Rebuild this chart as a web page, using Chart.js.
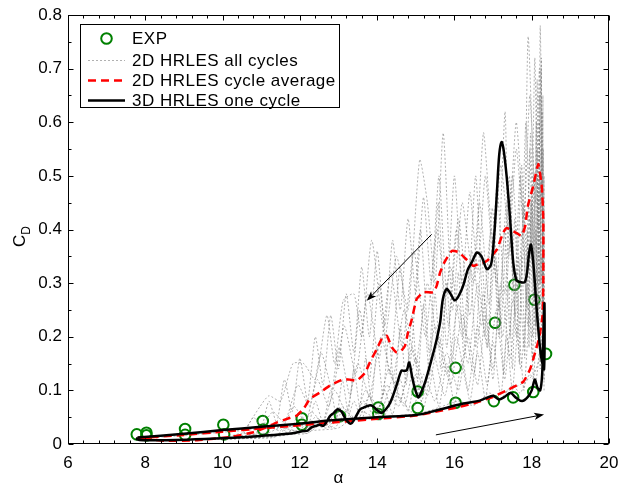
<!DOCTYPE html>
<html><head><meta charset="utf-8">
<script src="https://cdn.jsdelivr.net/npm/chart.js@4"></script>
<style>html,body{margin:0;padding:0;background:#fff;}canvas{display:block;}</style>
</head><body>
<canvas id="c" width="622" height="489"></canvas>
<script>
// ---------- tick labels ----------
const xTicks = [6, 8, 10, 12, 14, 16, 18, 20];
const xTickLabels = ['6', '8', '10', '12', '14', '16', '18', '20'];
const yTicks = [0, 0.1, 0.2, 0.3, 0.4, 0.5, 0.6, 0.7, 0.8];
const yTickLabels = ['0', '0.1', '0.2', '0.3', '0.4', '0.5', '0.6', '0.7', '0.8'];
const seriesNames = ['EXP', '2D HRLES all cycles', '2D HRLES cycle average', '3D HRLES one cycle'];

// ---------- EXP (alpha, CD) ----------
const expData = [[7.78,0.018],[8.03,0.021],[8.03,0.016],[9.03,0.028],[9.03,0.017],[10.02,0.036],[10.04,0.018],
  [11.04,0.043],[11.05,0.027],[12.05,0.048],[12.05,0.036],[13.04,0.052],[14.03,0.068],[14.03,0.056],
  [15.05,0.098],[15.05,0.067],[16.03,0.142],[16.03,0.077],[17.05,0.226],[17.02,0.08],[17.55,0.297],
  [17.52,0.087],[18.07,0.269],[18.04,0.097],[18.37,0.168]];

// ---------- 2D HRLES all cycles (several cycles) ----------
const grayUp1 = [[7.8,0.012],[9,0.018],[10,0.024],[11,0.03],[12,0.036],[13,0.043],[14,0.05],[15,0.056],[15.5,0.063],[16,0.07],[16.5,0.078],[17,0.088],[17.4,0.1],[17.8,0.115],[18.05,0.13],[18.2,0.16],[18.3,0.22]];
const grayUp2 = [[7.8,0.01],[9,0.016],[10,0.022],[11,0.028],[12,0.034],[13,0.041],[14,0.048],[15,0.055],[15.6,0.068],[16.1,0.08],[16.5,0.072],[16.9,0.095],[17.2,0.085],[17.5,0.11],[17.7,0.095],[17.95,0.13],[18.1,0.115],[18.22,0.18],[18.32,0.15]];
const grayCycA = [[18.3,0.15],[18.28,0.45],[18.22,0.78],[18.18,0.35],[18.12,0.6],[18.05,0.3],[17.95,0.55],[17.85,0.3],[17.7,0.5],[17.55,0.28],[17.35,0.45],[17.15,0.25],[16.95,0.4],[16.7,0.22],[16.45,0.36],[16.2,0.2],[15.9,0.33],[15.6,0.18],[15.3,0.3],[15.0,0.15],[14.7,0.25],[14.4,0.12],[14.1,0.2],[13.8,0.09],[13.5,0.15],[13.2,0.06],[12.9,0.1],[12.6,0.04],[12.3,0.06],[12.0,0.025],[11.5,0.03],[11.0,0.015],[10.5,0.012],[10,0.01],[9,0.008],[8,0.008]];
const grayCycB = [[18.3,0.2],[18.25,0.5],[18.15,0.3],[17.91,0.76],[17.8,0.4],[17.6,0.55],[17.4,0.35],[17.31,0.62],[17.1,0.3],[16.9,0.45],[16.75,0.58],[16.5,0.3],[16.2,0.45],[15.95,0.25],[15.71,0.58],[15.5,0.3],[15.3,0.45],[15.1,0.53],[14.8,0.25],[14.5,0.35],[14.2,0.2],[13.86,0.38],[13.6,0.2],[13.4,0.28],[13.12,0.267],[12.9,0.15],[12.7,0.24],[12.4,0.12],[12.1,0.15],[11.82,0.15],[11.5,0.08],[11.2,0.09],[10.97,0.07],[10.7,0.04],[10.45,0.015],[10,0.01],[9,0.008]];
const grayCycC = [[18.3,0.12],[18.27,0.4],[18.2,0.65],[18.1,0.25],[18.0,0.45],[17.9,0.22],[17.75,0.4],[17.6,0.2],[17.45,0.38],[17.25,0.2],[17.05,0.35],[16.85,0.18],[16.6,0.3],[16.35,0.15],[16.1,0.26],[15.8,0.13],[15.5,0.22],[15.2,0.1],[14.9,0.18],[14.6,0.08],[14.3,0.14],[14.0,0.06],[13.7,0.1],[13.4,0.045],[13.1,0.07],[12.8,0.03],[12.5,0.045],[12.2,0.02],[11.8,0.025],[11.3,0.012],[10.5,0.01],[9.5,0.008]];
const grayCycD = [[18.3,0.25],[18.24,0.7],[18.16,0.4],[18.08,0.72],[17.98,0.35],[17.85,0.6],[17.7,0.3],[17.5,0.5],[17.3,0.28],[17.1,0.48],[16.9,0.26],[16.65,0.45],[16.4,0.24],[16.1,0.42],[15.85,0.22],[15.55,0.4],[15.25,0.2],[14.95,0.36],[14.65,0.18],[14.35,0.32],[14.05,0.16],[13.75,0.28],[13.45,0.13],[13.15,0.22],[12.85,0.1],[12.55,0.17],[12.25,0.07],[11.95,0.11],[11.6,0.04],[11.3,0.06],[10.9,0.02],[10.5,0.015],[10,0.01],[9,0.008]];
const grayCycE = [[18.32,0.18],[18.3,0.55],[18.26,0.3],[18.2,0.5],[18.1,0.2],[17.95,0.42],[17.8,0.18],[17.65,0.35],[17.45,0.16],[17.2,0.3],[17.0,0.14],[16.75,0.28],[16.5,0.13],[16.2,0.24],[15.9,0.11],[15.6,0.2],[15.3,0.09],[15.0,0.16],[14.7,0.07],[14.4,0.12],[14.1,0.06],[13.8,0.09],[13.5,0.045],[13.2,0.06],[12.9,0.03],[12.6,0.04],[12.2,0.02],[11.7,0.018],[11,0.012],[10,0.009]];
const grayCycF = [[18.31,0.22],[18.27,0.62],[18.21,0.3],[18.14,0.68],[18.06,0.28],[17.97,0.58],[17.86,0.26],[17.74,0.52],[17.58,0.24],[17.42,0.5],[17.2,0.22],[16.98,0.44],[16.78,0.2],[16.55,0.5],[16.3,0.2],[16.05,0.4],[15.8,0.18],[15.58,0.45],[15.35,0.17],[15.12,0.4],[14.85,0.15],[14.6,0.33],[14.32,0.13],[14.05,0.3],[13.8,0.12],[13.55,0.25],[13.3,0.09],[13.02,0.18],[12.75,0.07],[12.45,0.12],[12.15,0.04],[11.85,0.07],[11.5,0.025],[11.1,0.035],[10.7,0.012],[10,0.009]];
const grayCycG = [[18.3,0.16],[18.26,0.35],[18.19,0.2],[18.11,0.4],[18.02,0.16],[17.9,0.3],[17.72,0.14],[17.52,0.27],[17.3,0.12],[17.08,0.25],[16.85,0.11],[16.6,0.22],[16.35,0.1],[16.05,0.2],[15.75,0.09],[15.45,0.17],[15.15,0.08],[14.85,0.14],[14.55,0.07],[14.25,0.11],[13.95,0.05],[13.65,0.08],[13.35,0.04],[13.05,0.055],[12.7,0.03],[12.35,0.035],[11.9,0.02],[11.3,0.015],[10.5,0.01]];
const grayCycH = [[18.3,0.3],[18.25,0.55],[18.2,0.25],[18.15,0.5],[18.1,0.22],[18.0,0.48],[17.9,0.25],[17.8,0.45],[17.68,0.22],[17.56,0.42],[17.44,0.2],[17.3,0.4],[17.15,0.2],[17.0,0.38],[16.85,0.18],[16.7,0.36],[16.55,0.18],[16.4,0.34],[16.25,0.16],[16.1,0.32],[15.95,0.15],[15.8,0.3],[15.65,0.14],[15.5,0.28],[15.35,0.13],[15.2,0.26],[15.05,0.12],[14.9,0.24],[14.75,0.11],[14.6,0.22],[14.45,0.1],[14.3,0.2],[14.15,0.09],[14.0,0.18],[13.85,0.08],[13.7,0.16],[13.55,0.07],[13.4,0.14],[13.25,0.06],[13.1,0.12],[12.95,0.05],[12.8,0.1],[12.6,0.04],[12.4,0.08],[12.2,0.03],[12.0,0.06],[11.7,0.02],[11.4,0.04],[11.0,0.015],[10.5,0.02],[10,0.01]];
const grayCycI = [[18.3,0.4],[18.2,0.7],[18.1,0.45],[17.95,0.65],[17.8,0.42],[17.6,0.6],[17.4,0.4],[17.2,0.52],[17.0,0.35],[16.8,0.5],[16.6,0.32],[16.4,0.47],[16.2,0.3],[16.0,0.5],[15.8,0.28],[15.6,0.5],[15.4,0.3],[15.2,0.46],[15.0,0.28],[14.8,0.42],[14.6,0.25],[14.4,0.38],[14.2,0.22],[14.0,0.36],[13.8,0.2],[13.6,0.33],[13.4,0.17],[13.2,0.28],[13.0,0.14],[12.8,0.24],[12.6,0.11],[12.4,0.2],[12.2,0.08],[12.0,0.16],[11.8,0.06],[11.6,0.12],[11.4,0.04],[11.2,0.08],[11.0,0.03],[10.8,0.05],[10.5,0.015],[10,0.01]];
const grayCycJ = [[18.32,0.1],[18.28,0.3],[18.22,0.14],[18.15,0.28],[18.05,0.12],[17.95,0.25],[17.8,0.1],[17.65,0.22],[17.5,0.1],[17.35,0.2],[17.2,0.09],[17.0,0.19],[16.8,0.085],[16.6,0.17],[16.4,0.08],[16.2,0.16],[16.0,0.075],[15.8,0.15],[15.6,0.07],[15.4,0.14],[15.2,0.065],[15.0,0.13],[14.8,0.06],[14.6,0.12],[14.4,0.055],[14.2,0.1],[14.0,0.05],[13.8,0.09],[13.6,0.045],[13.4,0.08],[13.2,0.04],[13.0,0.07],[12.7,0.035],[12.4,0.05],[12.1,0.025],[11.8,0.035],[11.4,0.018],[11.0,0.02],[10.5,0.012],[10,0.01]];
const grayCycK = [[18.33,0.12],[18.32,0.5],[18.3,0.2],[18.29,0.65],[18.27,0.25],[18.25,0.72],[18.22,0.3],[18.2,0.6],[18.17,0.25],[18.14,0.55],[18.1,0.22],[18.06,0.5],[18.02,0.2],[17.98,0.45],[17.93,0.18],[17.88,0.4],[17.82,0.16],[17.75,0.35],[17.68,0.15],[17.6,0.32],[17.5,0.14],[17.4,0.3],[17.28,0.13],[17.15,0.27],[17.0,0.12],[16.8,0.24],[16.6,0.11],[16.35,0.2],[16.1,0.1],[15.8,0.17],[15.5,0.08],[15.2,0.13],[14.9,0.06],[14.5,0.09],[14.1,0.045],[13.6,0.06],[13.0,0.03],[12.3,0.025],[11.5,0.015],[10.5,0.01]];

// ---------- 2D HRLES cycle average ----------
const avgCycle = [[7.8,0.011],[9,0.017],[10,0.023],[11,0.029],[12,0.035],[13,0.041],[14,0.047],[15,0.053],[15.5,0.06],[16,0.067],[16.5,0.076],[17.0,0.088],[17.35,0.1],[17.78,0.116],[17.96,0.14],[18.09,0.171],[18.2,0.2],[18.28,0.24],[18.3,0.3],[18.3,0.42],[18.26,0.48],[18.17,0.522],
  [18.04,0.481],[17.9,0.444],[17.83,0.406],[17.74,0.388],[17.62,0.393],[17.52,0.397],[17.35,0.403],[17.26,0.394],[17.1,0.363],[16.88,0.344],[16.75,0.338],[16.6,0.335],[16.49,0.332],[16.3,0.345],[16.1,0.358],[15.93,0.36],[15.75,0.34],[15.63,0.32],[15.54,0.295],[15.45,0.283],[15.2,0.283],[15.02,0.27],[14.9,0.233],[14.8,0.208],[14.72,0.183],[14.6,0.172],[14.5,0.171],[14.38,0.18],[14.25,0.202],[14.12,0.196],[13.99,0.177],[13.81,0.152],[13.69,0.133],[13.47,0.118],[13.3,0.12],[13.17,0.121],[13.04,0.118],[12.78,0.109],[12.52,0.096],[12.26,0.084],[12.09,0.065],[11.92,0.053],[11.75,0.049],[11.4,0.04],[11.1,0.03],[10.8,0.022],[10.2,0.013],[9.34,0.007],[8.5,0.006],[7.8,0.011]];

// ---------- 3D HRLES one cycle ----------
const cyc3D = [[7.8,0.012],[9,0.019],[10,0.026],[11,0.032],[12,0.038],[12.5,0.042],[13,0.045],[14,0.05],[15,0.054],[15.5,0.062],[16.2,0.075],[16.6,0.08],[16.8,0.085],[17.0,0.09],[17.15,0.083],[17.3,0.088],[17.45,0.095],[17.6,0.086],[17.75,0.08],[17.9,0.088],[18.0,0.1],[18.08,0.12],[18.15,0.105],[18.22,0.1],[18.27,0.13],[18.3,0.2],[18.33,0.262],[18.32,0.14],
  [18.25,0.16],[18.2,0.19],[18.12,0.26],[18.05,0.33],[17.98,0.372],[17.93,0.355],[17.88,0.32],[17.82,0.302],[17.7,0.302],[17.6,0.306],[17.52,0.34],[17.44,0.42],[17.35,0.5],[17.27,0.55],[17.22,0.563],[17.16,0.54],[17.1,0.47],[17.03,0.39],[16.95,0.335],[16.84,0.326],[16.7,0.35],[16.58,0.357],[16.45,0.339],[16.35,0.326],[16.22,0.294],[16.1,0.275],[16.0,0.268],[15.9,0.28],[15.8,0.289],[15.7,0.27],[15.63,0.227],[15.54,0.195],[15.41,0.158],[15.24,0.115],[15.1,0.09],[15.06,0.087],[14.97,0.105],[14.9,0.127],[14.83,0.152],[14.77,0.138],[14.7,0.136],[14.63,0.137],[14.5,0.109],[14.4,0.088],[14.29,0.071],[14.12,0.058],[14.02,0.062],[13.9,0.07],[13.8,0.072],[13.65,0.068],[13.55,0.064],[13.42,0.047],[13.32,0.038],[13.2,0.045],[13.08,0.06],[12.98,0.065],[12.88,0.058],[12.78,0.052],[12.68,0.04],[12.61,0.034],[12.5,0.036],[12.43,0.034],[12.3,0.031],[12.2,0.025],[12.08,0.024],[11.82,0.02],[10.97,0.015],[10.1,0.011],[9.07,0.008],[7.94,0.007],[7.78,0.009],[7.8,0.012]];

// ---------- annotation arrows (data coordinates: from -> to) ----------
const arrowDown = [[15.41,0.391],[13.73,0.267]];
const arrowUp = [[15.52,0.017],[18.32,0.055]];

const FONT = '"Liberation Sans", Arial, Helvetica, sans-serif';
const GREEN = 'rgb(0,128,0)';
const GRAY = 'rgba(125,125,125,0.6)';
const pts = a => a.map(p => ({x: p[0], y: p[1]}));

const grayStyle = {showLine: true, pointRadius: 0, borderColor: GRAY, borderWidth: 1, borderDash: [2, 2], tension: 0.2, order: 3, fill: false};
const grayDatasets = [grayUp1, grayUp2, grayCycA, grayCycB, grayCycC, grayCycD, grayCycE, grayCycF, grayCycG, grayCycH, grayCycI, grayCycJ, grayCycK]
  .map((d, i) => Object.assign({label: seriesNames[1] + ' ' + (i + 1), data: pts(d)}, grayStyle));

const datasets = [
  {label: seriesNames[0], data: pts(expData), showLine: false, pointRadius: 5.3, pointBorderWidth: 2,
   pointBorderColor: GREEN, pointBackgroundColor: 'rgba(0,0,0,0)', order: 4},
  ...grayDatasets,
  {label: seriesNames[2], data: pts(avgCycle), showLine: true, pointRadius: 0, borderColor: '#ff0000',
   borderWidth: 2.5, borderDash: [8, 5], tension: 0.15, order: 2},
  {label: seriesNames[3], data: pts(cyc3D), showLine: true, pointRadius: 0, borderColor: '#000',
   borderWidth: 2.5, tension: 0.3, order: 1}
];

function drawArrow(ctx, x1, y1, x2, y2) {
  ctx.save();
  ctx.strokeStyle = '#000'; ctx.fillStyle = '#000'; ctx.lineWidth = 1;
  const a = Math.atan2(y2 - y1, x2 - x1);
  const L = 10, W = 3.6;
  const bx = x2 - L * 0.75 * Math.cos(a), by = y2 - L * 0.75 * Math.sin(a);
  ctx.beginPath(); ctx.moveTo(x1, y1); ctx.lineTo(bx, by); ctx.stroke();
  const cx = x2 - L * Math.cos(a), cy = y2 - L * Math.sin(a);
  ctx.beginPath();
  ctx.moveTo(x2, y2);
  ctx.lineTo(cx - W * Math.sin(a), cy + W * Math.cos(a));
  ctx.lineTo(bx, by);
  ctx.lineTo(cx + W * Math.sin(a), cy - W * Math.cos(a));
  ctx.closePath(); ctx.fill();
  ctx.restore();
}

const decor = {
  id: 'decor',
  afterDatasetsDraw(chart) {
    const ctx = chart.ctx, xs = chart.scales.x, ys = chart.scales.y;
    [arrowDown, arrowUp].forEach(ar => drawArrow(ctx,
      xs.getPixelForValue(ar[0][0]), ys.getPixelForValue(ar[0][1]),
      xs.getPixelForValue(ar[1][0]), ys.getPixelForValue(ar[1][1])));
  },
  afterDraw(chart) {
    const ctx = chart.ctx, a = chart.chartArea, xs = chart.scales.x, ys = chart.scales.y;
    ctx.save();
    ctx.strokeStyle = '#000'; ctx.lineWidth = 1;
    const L = Math.round(a.left) + 0.5, R = Math.round(a.right) - 0.5, T = Math.round(a.top) + 0.5, B = Math.round(a.bottom) - 0.5;
    ctx.strokeRect(L, T, R - L, B - T);
    ctx.beginPath();
    for (let i = 0; i <= 35; i++) {
      const v = 6 + i * 0.4;
      const major = xTicks.some(t => Math.abs(t - v) < 1e-6);
      const len = major ? 5 : 3;
      const px = Math.round(xs.getPixelForValue(v)) + 0.5;
      ctx.moveTo(px, B); ctx.lineTo(px, B - len);
      ctx.moveTo(px, T); ctx.lineTo(px, T + len);
    }
    for (let i = 0; i <= 16; i++) {
      const v = i * 0.05;
      const major = i % 2 === 0;
      const len = major ? 5 : 3;
      const py = Math.round(ys.getPixelForValue(v)) + 0.5;
      ctx.moveTo(L, py); ctx.lineTo(L + len, py);
      ctx.moveTo(R, py); ctx.lineTo(R - len, py);
    }
    ctx.stroke();

    // axis titles
    ctx.fillStyle = '#000';
    ctx.font = '17px ' + FONT;
    ctx.textAlign = 'center'; ctx.textBaseline = 'middle';
    ctx.fillText('\u03b1', (a.left + a.right) / 2, 478);
    ctx.save();
    ctx.translate(19, 239); ctx.rotate(-Math.PI / 2);
    ctx.textAlign = 'left'; ctx.textBaseline = 'alphabetic';
    ctx.font = '17px ' + FONT;
    ctx.fillText('C', -8, 6);
    const cw = ctx.measureText('C').width;
    ctx.font = '12px ' + FONT;
    ctx.fillText('D', -8 + cw, 11);
    ctx.restore();

    // legend
    const lx = 80.5, ly = 24.5, lw = 259, lh = 83;
    ctx.fillStyle = '#fff'; ctx.fillRect(lx, ly, lw, lh);
    ctx.strokeStyle = '#000'; ctx.lineWidth = 1; ctx.strokeRect(lx, ly, lw, lh);
    const rows = [38.5, 60.5, 80.5, 100.5];
    const s0 = 88, s1 = 125, tx = 132;
    ctx.beginPath(); ctx.strokeStyle = GREEN; ctx.lineWidth = 2;
    ctx.arc((s0 + s1) / 2, rows[0], 5.3, 0, Math.PI * 2); ctx.stroke();
    ctx.beginPath(); ctx.strokeStyle = GRAY; ctx.lineWidth = 1; ctx.setLineDash([2, 2]);
    ctx.moveTo(s0, rows[1]); ctx.lineTo(s1, rows[1]); ctx.stroke();
    ctx.beginPath(); ctx.strokeStyle = '#ff0000'; ctx.lineWidth = 2.5; ctx.setLineDash([8, 5]);
    ctx.moveTo(s0, rows[2]); ctx.lineTo(s1, rows[2]); ctx.stroke();
    ctx.beginPath(); ctx.strokeStyle = '#000'; ctx.lineWidth = 2.5; ctx.setLineDash([]);
    ctx.moveTo(s0, rows[3]); ctx.lineTo(s1, rows[3]); ctx.stroke();
    ctx.fillStyle = '#000'; ctx.font = '17px ' + FONT; ctx.textAlign = 'left'; ctx.textBaseline = 'middle';
    ctx.letterSpacing = '0.5px';
    seriesNames.forEach((n, i) => ctx.fillText(n, tx, rows[i] + 1));
    ctx.letterSpacing = '0px';
    ctx.restore();
  }
};

new Chart(document.getElementById('c'), {
  type: 'scatter',
  data: {datasets},
  options: {
    responsive: false, animation: false, devicePixelRatio: 1,
    layout: {padding: {top: 15, right: 13, left: 0, bottom: 0}},
    plugins: {legend: {display: false}, tooltip: {enabled: false}},
    scales: {
      x: {type: 'linear', min: 6, max: 20,
        afterBuildTicks: s => { s.ticks = xTicks.map(v => ({value: v})); },
        ticks: {callback: v => xTickLabels[xTicks.indexOf(v)], color: '#000', font: {family: FONT, size: 17},
                padding: 9, maxRotation: 0, autoSkip: false},
        grid: {display: false, drawTicks: false}, border: {display: false},
        afterFit: s => { s.height = 45; s.paddingLeft = 0; s.paddingRight = 0; }},
      y: {type: 'linear', min: 0, max: 0.8,
        afterBuildTicks: s => { s.ticks = yTicks.map(v => ({value: v})); },
        ticks: {callback: v => yTickLabels[yTicks.indexOf(v)], color: '#000', font: {family: FONT, size: 17},
                padding: 6, autoSkip: false},
        grid: {display: false, drawTicks: false}, border: {display: false},
        afterFit: s => { s.width = 68; s.paddingTop = 0; s.paddingBottom = 0; }}
    }
  },
  plugins: [decor]
});
</script>
</body></html>
